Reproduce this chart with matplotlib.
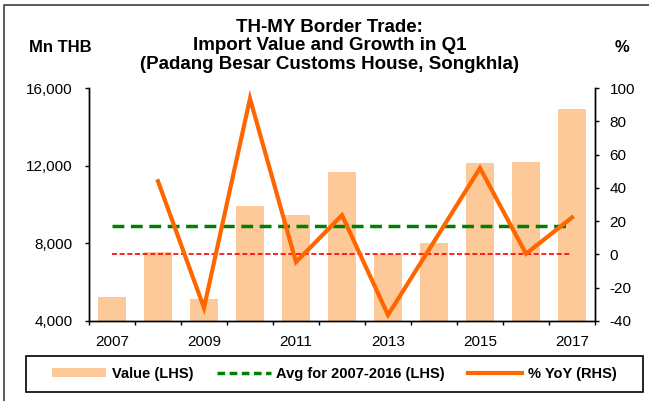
import numpy as np
import matplotlib
matplotlib.use("Agg")
import matplotlib.pyplot as plt
from matplotlib.patches import Rectangle, Patch
from matplotlib.lines import Line2D
from matplotlib.ticker import FuncFormatter

plt.rcParams["font.family"] = ["Liberation Sans", "DejaVu Sans"]
plt.rcParams["axes.unicode_minus"] = False

# Q1 import value through Padang Besar customs house (Mn THB) and % YoY
years = [2007, 2008, 2009, 2010, 2011, 2012, 2013, 2014, 2015, 2016, 2017]
values = [5240, 7540, 5120, 9920, 9460, 11690, 7430, 8000, 12150, 12190, 14900]
yoy = [np.nan, 44.0, -32.1, 93.7, -4.6, 23.6, -36.4, 7.7, 51.9, 0.4, 22.2]
year_labels = ["2007", "2009", "2011", "2013", "2015", "2017"]

avg_2007_2016 = np.mean(values[:10])

bar_color = "#FDC998"
yoy_color = "#FF6600"
avg_color = "#008000"

fig = plt.figure(figsize=(6.49, 4.01), dpi=100)
ax = fig.add_axes([89 / 649, 1 - 321 / 401, (595 - 89) / 649, (321 - 88) / 401])
ax2 = ax.twinx()

x = np.arange(len(years))
ax.bar(x, values, width=0.6, color=bar_color, zorder=2)
ax.plot([x[0], x[-1]], [avg_2007_2016, avg_2007_2016], color=avg_color,
        lw=2.5, dashes=(3.4, 1.9), zorder=3)

ax2.plot([x[0], x[-1]], [0, 0], color="#FF0000", lw=1.2, dashes=(3.0, 1.6))
ax2.plot(x, yoy, color=yoy_color, lw=3.0, solid_joinstyle="miter")

ax.set_xlim(-0.5, len(years) - 0.5)
ax.set_ylim(4000, 16000)
ax.set_yticks([4000, 8000, 12000, 16000])
ax.yaxis.set_major_formatter(FuncFormatter(lambda v, p: f"{v:,.0f}"))
ax2.set_ylim(-40, 100)
ax2.set_yticks(np.arange(-40, 101, 20))

# tick marks between categories, labels under every other year
ax.set_xticks(np.arange(-0.5, len(years), 1))
ax.set_xticklabels([])
ax.set_xticks(np.arange(0, len(years), 2), minor=True)
ax.set_xticklabels(year_labels, minor=True)
ax.tick_params(axis="x", which="major", length=3, width=1, direction="out")
ax.tick_params(axis="x", which="minor", length=0, pad=10, labelsize=11)
ax.tick_params(axis="y", length=3, width=1, pad=9, labelsize=11)
ax2.tick_params(axis="y", length=3, width=1, pad=7.5, labelsize=11)

for a in (ax, ax2):
    a.spines["top"].set_visible(False)
    for s in ("left", "right", "bottom"):
        a.spines[s].set_linewidth(1.0)

fig.text(0.508, 1 - 46 / 401, "TH-MY Border Trade:\nImport Value and Growth in Q1\n"
         "(Padang Besar Customs House, Songkhla)",
         ha="center", va="center", fontsize=13.5, fontweight="bold", linespacing=1.1)
fig.text(60 / 649, 1 - 47 / 401, "Mn THB", ha="center", va="center",
         fontsize=12, fontweight="bold")
fig.text(622 / 649, 1 - 47 / 401, "%", ha="center", va="center",
         fontsize=12, fontweight="bold")

# legend in its own box along the bottom
fig.add_artist(Rectangle((26 / 649, 1 - 392 / 401), (643 - 26) / 649, 36 / 401,
                         transform=fig.transFigure, fill=False, edgecolor="black", lw=1.2))
handles = [
    Patch(facecolor=bar_color, edgecolor="none"),
    Line2D([], [], color=avg_color, lw=2.5, dashes=(2.2, 1.3)),
    Line2D([], [], color=yoy_color, lw=3.0),
]
labels = ["Value (LHS)", "Avg for 2007-2016 (LHS)", "% YoY (RHS)"]
fig.legend(handles, labels, loc="center", ncol=3, frameon=False,
           bbox_to_anchor=((26 + 643) / 2 / 649, 1 - 374 / 401),
           prop={"size": 10.5, "weight": "bold"},
           handlelength=3.7, handleheight=0.6, handletextpad=0.4, columnspacing=1.6)

# thin frame on the left and top of the figure
fig.add_artist(Line2D([4 / 649, 4 / 649, 1], [0, 1 - 5 / 401, 1 - 5 / 401],
                      transform=fig.transFigure, color="#404040", lw=1.2))

fig.savefig("out.png", dpi=100)
